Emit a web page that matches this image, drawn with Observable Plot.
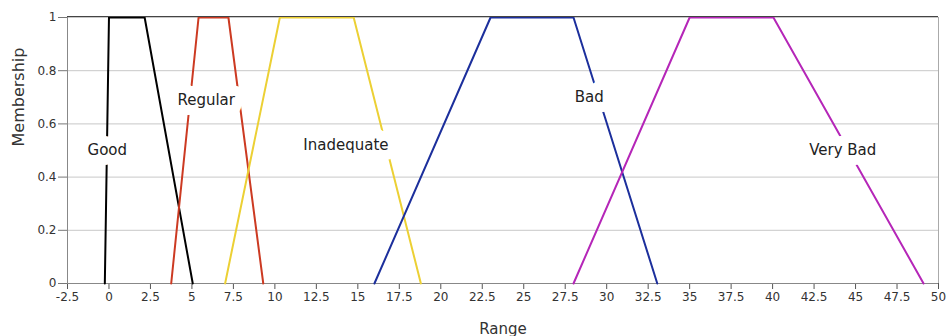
<!DOCTYPE html>
<html><head><meta charset="utf-8">
<script src="https://cdn.jsdelivr.net/npm/d3@7"></script>
<script src="https://cdn.jsdelivr.net/npm/@observablehq/plot@0.6"></script>
<style>body{margin:0;background:#fff} svg{display:block}</style>
</head><body><div id="chart"></div>
<script>
const categories = ["Good", "Regular", "Inadequate", "Bad", "Very Bad"];
const colors = ["#000000", "#cc3a22", "#ecd034", "#1c2f9c", "#b526b8"];
// x positions of each trapezoid's four corners (membership 0,1,1,0)
const goodRange = [-0.25, 0, 2.15, 5.05];
const regularRange = [3.75, 5.4, 7.2, 9.3];
const inadequateRange = [7, 10.3, 14.75, 18.8];
const badRange = [16, 23, 28, 33.05];
const veryBadRange = [28, 35, 40.05, 49.1];
const membershipValues = [0, 1, 1, 0];
const labelX = [-0.1, 5.86, 14.28, 28.95, 44.23];
const labelY = [0.5, 0.69, 0.52, 0.70, 0.5];
const xTicks = [-2.5, 0, 2.5, 5, 7.5, 10, 12.5, 15, 17.5, 20, 22.5, 25, 27.5, 30, 32.5, 35, 37.5, 40, 42.5, 45, 47.5, 50];
const yTicks = [0, 0.2, 0.4, 0.6, 0.8, 1];

const ranges = [goodRange, regularRange, inadequateRange, badRange, veryBadRange];
const rows = categories.flatMap((c, i) => ranges[i].map((x, j) => ({category: c, x, y: membershipValues[j]})));

const plot = Plot.plot({
  width: 947, height: 336,
  marginLeft: 67, marginRight: 9, marginTop: 17, marginBottom: 53,
  style: {fontFamily: "DejaVu Sans", fontSize: "12px", background: "#fff", color: "#333"},
  x: {domain: [-2.5, 50]},
  y: {domain: [0, 1]},
  color: {domain: categories, range: colors},
  marks: [
    Plot.gridY(yTicks, {stroke: "#c8c8c8", strokeOpacity: 1}),
    Plot.axisX(xTicks, {tickFormat: d => String(d), tickSize: 6, tickPadding: 3, stroke: "#555", label: null, fontSize: 12}),
    Plot.axisY(yTicks, {tickFormat: d => String(d), tickSize: 9, tickPadding: 2, stroke: "#777", label: null, fontSize: 12}),
    Plot.ruleY([0], {stroke: "#888"}),
    Plot.ruleX([-2.5], {stroke: "#888"}),
    Plot.ruleX([50], {stroke: "#aaa"}),
    Plot.line(rows, {x: "x", y: "y", z: "category", stroke: "category", strokeWidth: 2}),
    Plot.ruleY([1], {stroke: "#444", dy: -1}),
    Plot.text(categories, {x: (d, i) => labelX[i], y: (d, i) => labelY[i], text: d => d, fill: "#222", stroke: "white", strokeWidth: 20, fontSize: 15}),
    Plot.text(["Membership"], {frameAnchor: "left", rotate: -90, dx: -49, dy: -4, fontSize: 16, fill: "#333"}),
    Plot.text(["Range"], {frameAnchor: "bottom", dy: 50, fontSize: 15, fill: "#333"})
  ]
});
document.getElementById("chart").appendChild(plot);
</script>
</body></html>
